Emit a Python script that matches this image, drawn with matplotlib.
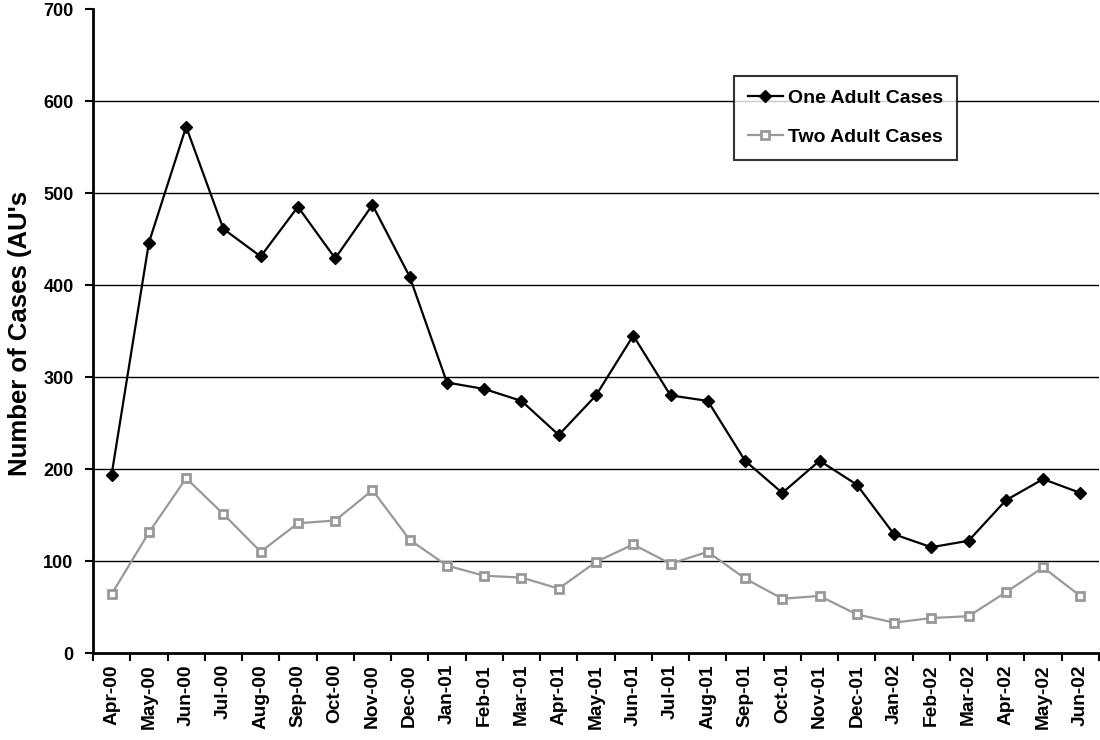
import matplotlib
matplotlib.use("Agg")
import matplotlib.pyplot as plt
import numpy as np

months = ["Apr-00","May-00","Jun-00","Jul-00","Aug-00","Sep-00","Oct-00","Nov-00","Dec-00",
          "Jan-01","Feb-01","Mar-01","Apr-01","May-01","Jun-01","Jul-01","Aug-01","Sep-01",
          "Oct-01","Nov-01","Dec-01","Jan-02","Feb-02","Mar-02","Apr-02","May-02","Jun-02"]
one_adult = [194, 446, 572, 461, 431, 485, 429, 487, 409,
             294, 287, 274, 237, 280, 345, 280, 274, 209,
             174, 209, 183, 129, 115, 122, 166, 189, 174]
two_adult = [64, 131, 190, 151, 110, 141, 144, 177, 123,
             95, 84, 82, 70, 99, 118, 97, 110, 81,
             59, 62, 42, 33, 38, 40, 66, 93, 62]
yticks = [0, 100, 200, 300, 400, 500, 600, 700]

plt.rcParams['font.family'] = ['Liberation Sans', 'DejaVu Sans']
plt.rcParams['font.weight'] = 'bold'

fig = plt.figure(figsize=(11, 7.4), dpi=100)
ax = fig.add_axes([93/1100, 1-653/740, 1-93/1100-1/1100, (653-9)/740])

x = np.arange(len(months))
ax.plot(x, one_adult, color='black', lw=1.6, marker='D', ms=6.5, mfc='black', mec='black',
        label='One Adult Cases', zorder=3)
ax.plot(x, two_adult, color='#999999', lw=1.6, marker='s', ms=6, mfc='white', mec='#999999',
        mew=2, label='Two Adult Cases', zorder=3)

ax.set_xlim(-0.5, len(months) - 0.5)
ax.set_ylim(0, 700)
ax.set_yticks(yticks)
ax.set_yticklabels([str(v) for v in yticks], fontsize=13, fontweight='bold')
for v in yticks[1:-1]:
    ax.axhline(v, color='black', lw=1.0, zorder=1)

ax.set_xticks(x)
ax.set_xticklabels(months, rotation=90, fontsize=13.8, fontweight='bold')
ax.tick_params(axis='x', which='major', length=0, pad=8)
ax.set_xticks(np.arange(-0.5, len(months), 1.0), minor=True)
ax.tick_params(axis='x', which='minor', length=6, width=1.5, direction='out')
ax.tick_params(axis='y', length=6, width=1.5, direction='out', pad=8)

for s in ['top', 'right']:
    ax.spines[s].set_visible(False)
for s in ['left', 'bottom']:
    ax.spines[s].set_linewidth(2)

fig.text(20/1100, 1-333/740, "Number of Cases (AU's", rotation=90, ha='center', va='center',
         fontsize=18.5, fontweight='bold')

leg = ax.legend(loc='upper left', bbox_to_anchor=((735-93)/1007, 1-(76-9)/644),
                frameon=True, fancybox=False, edgecolor='black', fontsize=14,
                handlelength=1.8, borderpad=0.7, labelspacing=1.1, handletextpad=0.25,
                borderaxespad=0)
leg.get_frame().set_linewidth(1.5)
leg.set_zorder(5)
for t in leg.get_texts():
    t.set_fontweight('bold')

fig.savefig('out.png', dpi=100, facecolor='white')
